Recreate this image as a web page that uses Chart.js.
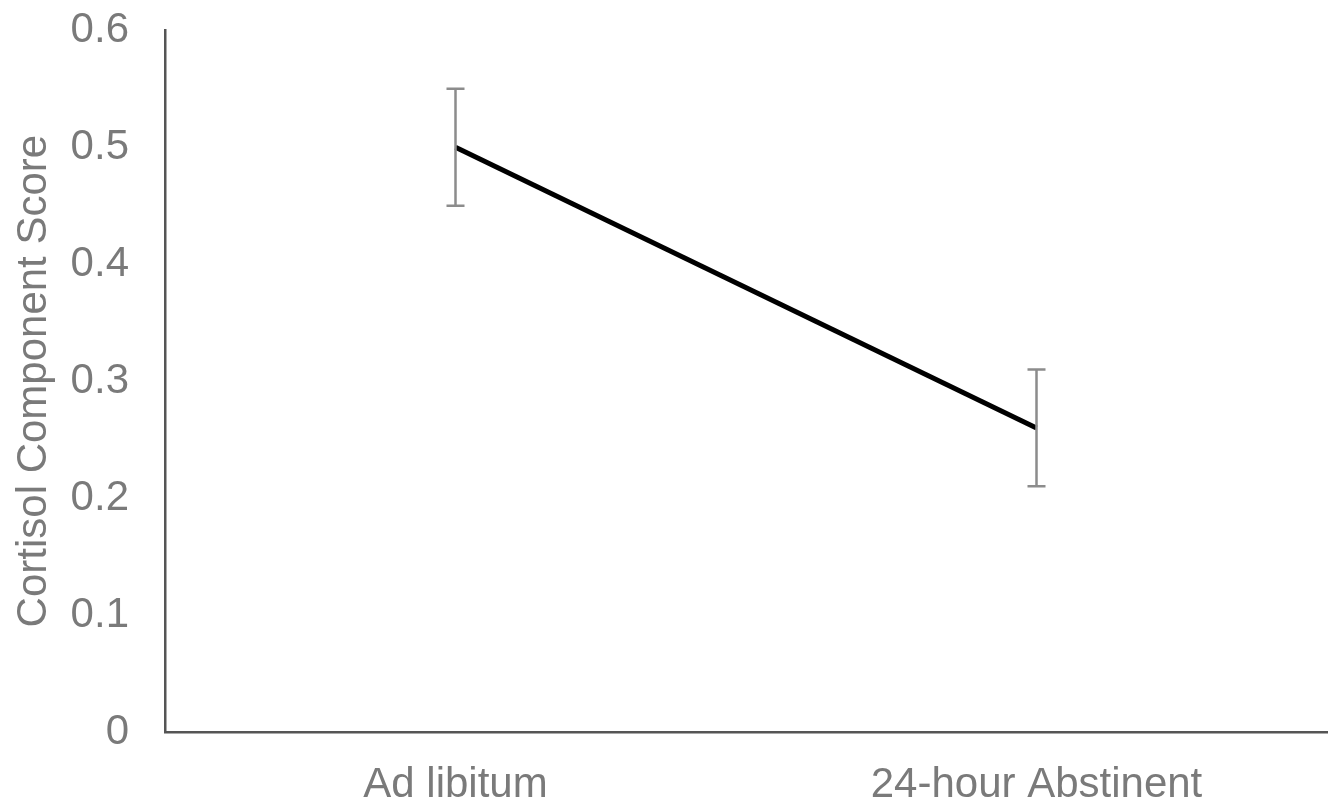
<!DOCTYPE html>
<html>
<head>
<meta charset="utf-8">
<script src="https://cdn.jsdelivr.net/npm/chart.js@4/dist/chart.umd.min.js"></script>
<style>
html,body{margin:0;padding:0;background:#fff;}
#wrap{width:1338px;height:808px;position:relative;}
</style>
</head>
<body>
<div id="wrap"><canvas id="c" width="1338" height="808"></canvas></div>
<script>
const categories = ["Ad libitum", "24-hour Abstinent"];
const meanScores = [0.50, 0.26];
const errLow = [0.45, 0.21];
const errHigh = [0.55, 0.31];
const yTicks = [0, 0.1, 0.2, 0.3, 0.4, 0.5, 0.6];

const errorBarPlugin = {
  id: 'errorBars',
  afterDatasetsDraw(chart) {
    const ctx = chart.ctx;
    const xs = chart.scales.x, ys = chart.scales.y;
    ctx.save();
    ctx.strokeStyle = '#8c8c8c';
    ctx.lineWidth = 2.5;
    categories.forEach((c, i) => {
      const x = xs.getPixelForValue(i);
      const yl = ys.getPixelForValue(errLow[i]);
      const yh = ys.getPixelForValue(errHigh[i]);
      ctx.beginPath();
      ctx.moveTo(x, yl); ctx.lineTo(x, yh);
      ctx.moveTo(x - 9, yl); ctx.lineTo(x + 9, yl);
      ctx.moveTo(x - 9, yh); ctx.lineTo(x + 9, yh);
      ctx.stroke();
    });
    ctx.restore();
  }
};

new Chart(document.getElementById('c'), {
  type: 'line',
  data: {
    labels: categories,
    datasets: [{
      data: meanScores,
      borderColor: '#000',
      borderWidth: 5,
      pointRadius: 0,
      fill: false,
      tension: 0
    }]
  },
  options: {
    responsive: false,
    animation: false,
    layout: { padding: { top: 0, right: 11, left: 0, bottom: 0 } },
    plugins: { legend: { display: false }, tooltip: { enabled: false } },
    scales: {
      x: {
        offset: true,
        grid: { display: false, drawTicks: false },
        border: { display: true, color: '#555', width: 2.5 },
        ticks: { color: '#7a7a7a', font: { family: 'Liberation Sans, Arial', size: 42 }, padding: 28, maxRotation: 0 },
        afterFit(s) { s.height = 76; }
      },
      y: {
        min: 0, max: 0.6,
        afterBuildTicks(s) { s.ticks = yTicks.map(v => ({ value: v })); },
        grid: { display: false, drawTicks: true, tickLength: 31, tickColor: 'rgba(0,0,0,0)' },
        border: { display: true, color: '#555', width: 2.5 },
        ticks: {
          color: '#7a7a7a', font: { family: 'Liberation Sans, Arial', size: 42 }, padding: 5,
          autoSkip: false,
          callback: v => String(v)
        },
        title: {
          display: true, text: 'Cortisol Component Score', color: '#7a7a7a',
          font: { family: 'Liberation Sans, Arial', size: 42 }, padding: { top: 9, bottom: 0 }
        },
        afterFit(s) { s.width = 165; }
      }
    }
  },
  plugins: [errorBarPlugin]
});
</script>
</body>
</html>
